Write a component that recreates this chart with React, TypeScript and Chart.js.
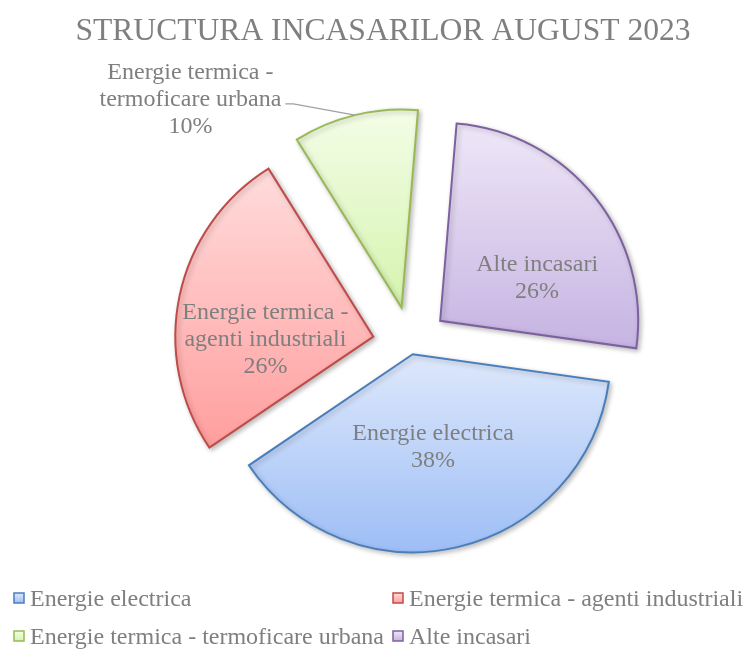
import React, { useEffect, useRef } from 'react';
import { Chart, registerables, PieController } from 'chart.js';

Chart.register(...registerables);

// ---- data ----
const chartTitle = 'STRUCTURA INCASARILOR AUGUST 2023';
const categories = [
  'Energie electrica',
  'Energie termica - agenti industriali',
  'Energie termica - termoficare urbana',
  'Alte incasari',
];
const values = [38.3, 25.6, 10.2, 25.9];

// ---- styles ----
const borderColors = ['#4A7EBB', '#BE4B48', '#98B954', '#7D60A0'];
const gradTop = ['#DEE8FB', '#FFDCDC', '#F3FDE7', '#EEE7F7'];
const gradBottom = ['#9DBEF6', '#FF9E9E', '#D6F4AE', '#C6B3E2'];
const explode = [10, 38, 38, 38];
const ROTATION = 98;
const RADIUS = 198;
const TEXT = '#7F7F7F';
const FONT = '"Liberation Serif", "Times New Roman", serif';
// label placement: fraction of radius, angle shift (deg) from bisector
const labelFrac = [0.512, 0.547, 1.475, 0.523];
const labelShift = [1.5, -16.9, -32.7, 18];
const labelLeader = [false, false, true, false];
const LINE_H = 26.8;

class ExplodedPieController extends (PieController as any) {
  static id = 'explodedPie';
  static defaults = (PieController as any).defaults;
  static overrides = (PieController as any).overrides;
  draw() {
    const meta = (this as any)._cachedMeta;
    const chart = (this as any).chart;
    const ctx = chart.ctx;
    meta.data.forEach((arc: any, i: number) => {
      const mid = (arc.startAngle + arc.endAngle) / 2;
      const d = explode[i] || 0;
      ctx.save();
      ctx.translate(Math.cos(mid) * d, Math.sin(mid) * d);
      ctx.shadowColor = 'rgba(0,0,0,0.25)';
      ctx.shadowBlur = 5;
      ctx.shadowOffsetX = 2;
      ctx.shadowOffsetY = 2;
      arc.draw(ctx, chart.chartArea);
      ctx.restore();
    });
  }
}
Chart.register(ExplodedPieController as any);

function sliceGradient(c: any) {
  const i = c.dataIndex;
  const chart = c.chart;
  const area = chart.chartArea;
  if (!area) return gradTop[i];
  const cx = (area.left + area.right) / 2;
  const cy = (area.top + area.bottom) / 2;
  const total = values.reduce((a, b) => a + b, 0);
  let cum = 0;
  for (let k = 0; k < i; k++) cum += values[k];
  const a0 = ((ROTATION - 90) * Math.PI) / 180 + (cum / total) * Math.PI * 2;
  const a1 = a0 + (values[i] / total) * Math.PI * 2;
  const ys = [cy, cy + RADIUS * Math.sin(a0), cy + RADIUS * Math.sin(a1)];
  for (let k = -4; k <= 4; k++) {
    const q = Math.PI / 2 + k * Math.PI;
    if (q > a0 && q < a1) ys.push(cy + RADIUS * Math.sin(q));
  }
  const minY = Math.min(...ys);
  const maxY = Math.max(...ys);
  const g = chart.ctx.createLinearGradient(0, minY, 0, maxY);
  g.addColorStop(0, gradTop[i]);
  g.addColorStop(1, gradBottom[i]);
  return g;
}

function splitLabel(s: string): string[] {
  const idx = s.indexOf(' - ');
  if (idx < 0) return [s];
  return [s.slice(0, idx) + ' -', s.slice(idx + 3)];
}

const overlayPlugin = {
  id: 'overlay',
  afterDraw(chart: any) {
    const ctx = chart.ctx;
    const meta = chart.getDatasetMeta(0);
    const total = values.reduce((a, b) => a + b, 0);
    ctx.save();
    // title
    ctx.fillStyle = TEXT;
    ctx.textAlign = 'center';
    ctx.textBaseline = 'alphabetic';
    ctx.font = `31.6px ${FONT}`;
    ctx.fillText(chartTitle, 383, 40);

    // data labels
    ctx.font = `24px ${FONT}`;
    meta.data.forEach((arc: any, i: number) => {
      const mid = (arc.startAngle + arc.endAngle) / 2;
      const d = explode[i];
      const ox = arc.x + Math.cos(mid) * d;
      const oy = arc.y + Math.sin(mid) * d;
      const la = mid + (labelShift[i] * Math.PI) / 180;
      const lr = labelFrac[i] * arc.outerRadius;
      const ax = ox + Math.cos(la) * lr;
      const ay = oy + Math.sin(la) * lr;
      const lines = [...splitLabel(categories[i]), Math.round((values[i] / total) * 100) + '%'];
      const n = lines.length;
      ctx.fillStyle = TEXT;
      lines.forEach((t, k) => {
        ctx.fillText(t, ax, ay + (k - (n - 1) / 2) * LINE_H);
      });
      if (labelLeader[i]) {
        const maxW = Math.max(...lines.map((t) => ctx.measureText(t).width));
        const endX = ax + maxW / 2 + 4;
        const ly = ay - 2;
        const px = ox + Math.cos(mid) * arc.outerRadius;
        const py = oy + Math.sin(mid) * arc.outerRadius;
        ctx.strokeStyle = '#A0A0A0';
        ctx.lineWidth = 1.25;
        ctx.beginPath();
        ctx.moveTo(px, py);
        ctx.lineTo(endX + 8, ly);
        ctx.lineTo(endX, ly);
        ctx.stroke();
      }
    });

    // legend
    const colX = [14, 393];
    const rowY = [606, 644];
    ctx.textAlign = 'left';
    categories.forEach((name, i) => {
      const x = colX[i % 2];
      const y = rowY[Math.floor(i / 2)];
      const sq = 10;
      const sy = y - 13;
      const g = ctx.createLinearGradient(0, sy, 0, sy + sq);
      g.addColorStop(0, gradTop[i]);
      g.addColorStop(1, gradBottom[i]);
      ctx.fillStyle = g;
      ctx.fillRect(x, sy, sq, sq);
      ctx.strokeStyle = borderColors[i];
      ctx.lineWidth = 1.5;
      ctx.strokeRect(x, sy, sq, sq);
      ctx.fillStyle = TEXT;
      ctx.fillText(name, x + 16, y);
    });
    ctx.restore();
  },
};

export default function App() {
  const ref = useRef<HTMLCanvasElement | null>(null);
  useEffect(() => {
    if (!ref.current) return;
    const chart = new Chart(ref.current, {
      type: 'explodedPie' as any,
      data: {
        labels: categories,
        datasets: [
          {
            data: values,
            backgroundColor: sliceGradient as any,
            borderColor: borderColors,
            borderWidth: 2,
            borderJoinStyle: 'miter',
          } as any,
        ],
      },
      options: {
        responsive: false,
        animation: false,
        rotation: ROTATION,
        radius: RADIUS,
        layout: { padding: { left: 76, right: 0, top: 38, bottom: 0 } },
        plugins: {
          legend: { display: false },
          tooltip: { enabled: false },
          title: { display: false },
        },
        events: [],
      } as any,
      plugins: [overlayPlugin],
    });
    return () => chart.destroy();
  }, []);
  return (
    <div style={{ position: 'fixed', left: 0, top: 0, width: 745, height: 651, background: '#fff' }}>
      <canvas ref={ref} width={745} height={651} style={{ display: 'block' }} />
    </div>
  );
}
